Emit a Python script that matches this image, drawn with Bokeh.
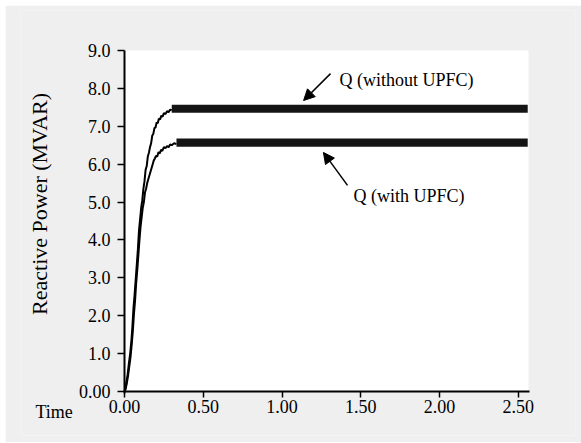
import math
from bokeh.plotting import figure
from bokeh.models import (Label, Arrow, NormalHead, FixedTicker, PrintfTickFormatter,
                          CustomJSTickFormatter, BoxAnnotation)
from bokeh.embed import file_html
from bokeh.resources import INLINE

# ---- data ----
t_without = [0.000, 0.004, 0.012, 0.020, 0.028, 0.036, 0.044, 0.050, 0.057, 0.064, 0.071,
             0.078, 0.085, 0.092, 0.099, 0.106, 0.113, 0.120, 0.127, 0.134, 0.141, 0.148,
             0.155, 0.162, 0.169, 0.176, 0.183, 0.190, 0.197, 0.204, 0.211, 0.218, 0.226,
             0.234, 0.242, 0.250, 0.260, 0.270, 0.280, 0.290, 0.300]
q_without = [0.00, 0.05, 0.25, 0.45, 0.75, 1.00, 1.35, 1.70, 2.20, 2.55, 2.95,
             3.35, 3.75, 4.25, 4.55, 4.85, 5.05, 5.35, 5.55, 5.85, 5.95, 6.20,
             6.30, 6.45, 6.55, 6.75, 6.80, 6.95, 6.97, 7.10, 7.08, 7.20, 7.18,
             7.28, 7.25, 7.35, 7.32, 7.40, 7.37, 7.44, 7.42]

t_with = [0.000, 0.006, 0.014, 0.022, 0.030, 0.038, 0.046, 0.053, 0.060, 0.067, 0.074,
          0.081, 0.088, 0.095, 0.102, 0.109, 0.116, 0.123, 0.130, 0.137, 0.144, 0.151,
          0.158, 0.165, 0.172, 0.179, 0.186, 0.193, 0.200, 0.208, 0.216, 0.224, 0.232,
          0.240, 0.250, 0.260, 0.270, 0.280, 0.290, 0.300, 0.315, 0.330]
q_with = [0.00, 0.05, 0.20, 0.40, 0.65, 0.90, 1.25, 1.60, 2.05, 2.40, 2.85,
          3.20, 3.60, 4.00, 4.35, 4.60, 4.85, 5.00, 5.25, 5.35, 5.50, 5.60,
          5.70, 5.80, 5.90, 6.00, 6.10, 6.15, 6.22, 6.20, 6.32, 6.28, 6.38,
          6.35, 6.45, 6.42, 6.48, 6.45, 6.52, 6.50, 6.55, 6.53]

# steady-state ripple bands (time span, lower and upper envelope)
band_without_t = [0.300, 2.560]
band_without_lo = [7.36, 7.36]
band_without_hi = [7.57, 7.57]
band_with_t = [0.330, 2.560]
band_with_lo = [6.46, 6.46]
band_with_hi = [6.68, 6.68]

x_ticks = [0.0, 0.5, 1.0, 1.5, 2.0, 2.5]
y_ticks = [0, 1, 2, 3, 4, 5, 6, 7, 8, 9]
X_MAX = 2.565
Y_MAX = 9.0

SERIF = "'Liberation Serif', 'Times New Roman', serif"
GRAY = "#efefef"

# the frame also covers the area around the axes, so the axes are pinned
# at x=0 / y=0 and the white plotting area is a box annotation
p = figure(width=576, height=437, x_range=(-0.6603, 2.8634), y_range=(-1.1613, 10.0557),
           output_backend="svg", toolbar_location=None,
           min_border_left=15, min_border_right=6, min_border_top=5,
           min_border_bottom=7, border_fill_color=GRAY,
           background_fill_color=GRAY, outline_line_color=None,
           margin=(5, 0, 0, 5))
p.grid.visible = False

p.add_layout(BoxAnnotation(left=0, right=X_MAX, bottom=0, top=Y_MAX,
                           fill_color="white", fill_alpha=1.0, line_color=None,
                           level="underlay"))

# curves
p.line(t_without, q_without, line_color="black", line_width=2)
p.line(t_with, q_with, line_color="black", line_width=2)
p.varea(x=band_without_t, y1=band_without_lo, y2=band_without_hi, fill_color="#141414")
p.varea(x=band_with_t, y1=band_with_lo, y2=band_with_hi, fill_color="#141414")

# axes
for ax in (p.xaxis[0], p.yaxis[0]):
    ax.fixed_location = 0
    ax.axis_line_width = 2
    ax.axis_line_color = "black"
    ax.major_tick_line_color = "black"
    ax.major_tick_line_width = 1.5
    ax.major_tick_in = 0
    ax.minor_tick_line_color = None
    ax.major_label_text_font = SERIF
    ax.major_label_text_font_size = "18px"
    ax.major_label_text_color = "black"

p.xaxis.bounds = (0, 2.572)
p.xaxis.ticker = FixedTicker(ticks=x_ticks)
p.xaxis.formatter = PrintfTickFormatter(format="%.2f")
p.xaxis.major_tick_out = 6
p.xaxis.major_label_standoff = 3

p.yaxis.bounds = (-0.05, Y_MAX)
p.yaxis.ticker = FixedTicker(ticks=y_ticks)
p.yaxis.formatter = CustomJSTickFormatter(code="return tick == 0 ? '0.00' : tick.toFixed(1);")
p.yaxis.major_tick_out = 7
p.yaxis.major_label_standoff = 7

# texts
p.add_layout(Label(x=-0.565, y=-0.53, text="Time", text_font=SERIF,
                   text_font_size="18px", text_color="black",
                   text_baseline="alphabetic", text_align="left"))
p.add_layout(Label(x=-0.5397, y=4.95, text="Reactive Power (MVAR)", angle=math.pi / 2,
                   text_font=SERIF, text_font_size="22px", text_color="black",
                   text_align="center", text_baseline="middle"))
p.add_layout(Label(x=1.365, y=8.22, text="Q (without UPFC)", text_font=SERIF,
                   text_font_size="18px", text_color="black",
                   text_baseline="alphabetic", text_align="left"))
p.add_layout(Label(x=1.454, y=5.15, text="Q (with UPFC)", text_font=SERIF,
                   text_font_size="18px", text_color="black",
                   text_baseline="alphabetic", text_align="left"))

p.add_layout(Arrow(end=NormalHead(size=11, fill_color="black", line_color="black"),
                   x_start=1.308, y_start=8.39, x_end=1.137, y_end=7.68,
                   line_color="black", line_width=1.5))
p.add_layout(Arrow(end=NormalHead(size=11, fill_color="black", line_color="black"),
                   x_start=1.416, y_start=5.44, x_end=1.263, y_end=6.31,
                   line_color="black", line_width=1.5))

open("out.html", "w").write(file_html(p, INLINE))
